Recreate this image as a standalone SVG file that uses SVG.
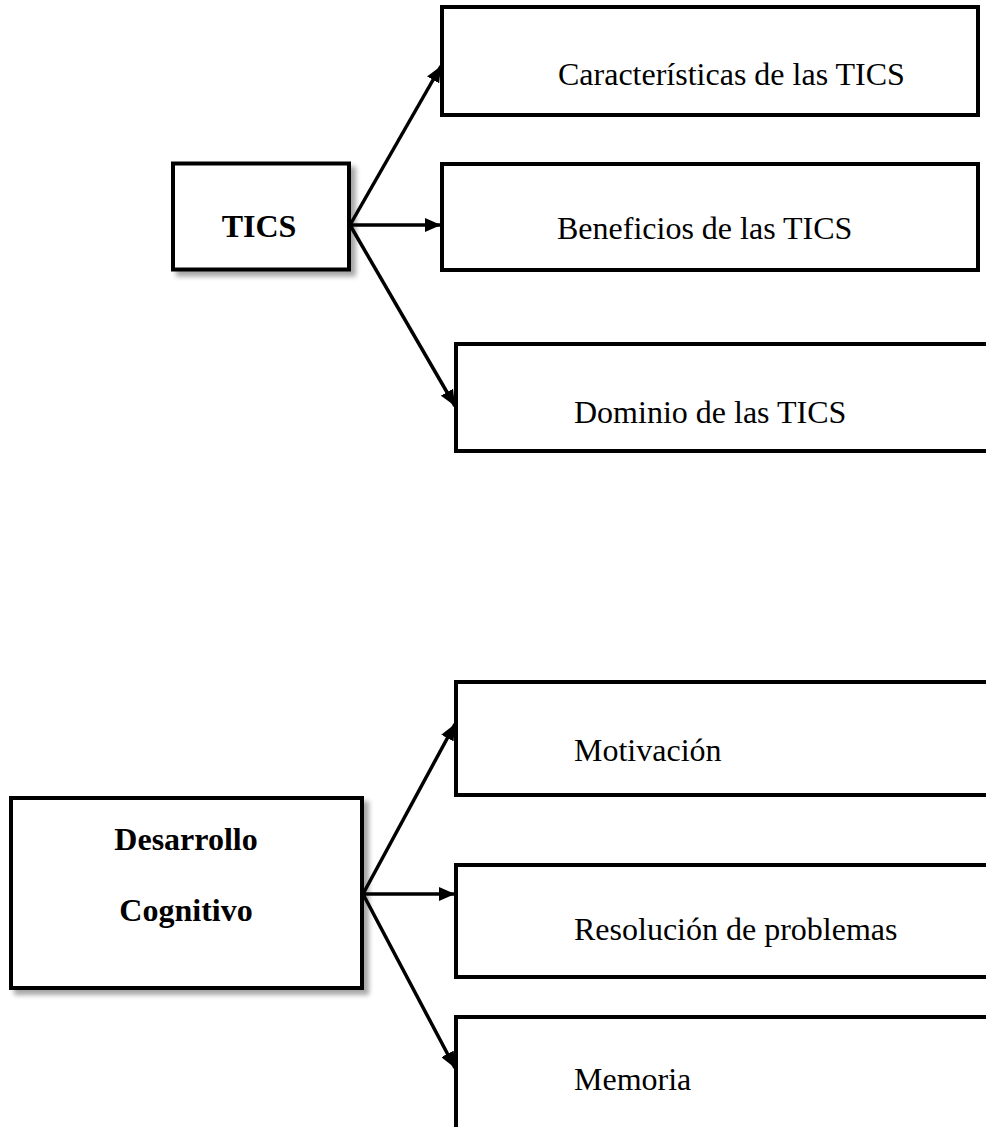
<svg xmlns="http://www.w3.org/2000/svg" width="986" height="1127" viewBox="0 0 986 1127">
  <style>
    .box { fill: #ffffff; stroke: #000000; stroke-width: 4; }
    .lbl { font-family: "Liberation Serif", "Times New Roman", serif; font-size: 32px; fill: #000000; }
    .bold { font-weight: bold; }
    .conn { stroke: #000000; stroke-width: 3.5; fill: none; marker-end: url(#arrow); }
  </style>
  <defs>
    <marker id="arrow" viewBox="0 0 16 14" refX="16" refY="7" markerWidth="16" markerHeight="14" markerUnits="userSpaceOnUse" orient="auto">
      <path d="M0,0 L16,7 L0,14 Z" fill="#000000"/>
    </marker>
    <filter id="shadow" x="-10%" y="-10%" width="130%" height="130%">
      <feGaussianBlur in="SourceAlpha" stdDeviation="2.5"/>
      <feOffset dx="5" dy="5" result="b"/>
      <feComponentTransfer><feFuncA type="linear" slope="0.35"/></feComponentTransfer>
      <feMerge><feMergeNode/><feMergeNode in="SourceGraphic"/></feMerge>
    </filter>
  </defs>

  <g id="connectors">
    <line class="conn" x1="350" y1="225" x2="441" y2="66"/>
    <line class="conn" x1="350" y1="225" x2="441" y2="225"/>
    <line class="conn" x1="350" y1="225" x2="455" y2="406"/>
    <line class="conn" x1="363" y1="894" x2="455" y2="724"/>
    <line class="conn" x1="363" y1="894" x2="455" y2="894"/>
    <line class="conn" x1="363" y1="894" x2="455" y2="1068"/>
  </g>

  <g id="node-tics">
    <rect class="box" x="173" y="163.5" width="176" height="106" filter="url(#shadow)"/>
    <text class="lbl bold" x="259" y="237" text-anchor="middle">TICS</text>
  </g>
  <g id="node-caracteristicas">
    <rect class="box" x="442" y="7" width="536" height="108"/>
    <text class="lbl" x="558" y="85">Características de las TICS</text>
  </g>
  <g id="node-beneficios">
    <rect class="box" x="442" y="164" width="536" height="106"/>
    <text class="lbl" x="557" y="239">Beneficios de las TICS</text>
  </g>
  <g id="node-dominio">
    <rect class="box" x="456" y="344" width="540" height="107"/>
    <text class="lbl" x="574" y="423">Dominio de las TICS</text>
  </g>

  <g id="node-desarrollo">
    <rect class="box" x="11" y="798" width="351" height="190" filter="url(#shadow)"/>
    <text class="lbl bold" x="186" y="850" text-anchor="middle">Desarrollo</text>
    <text class="lbl bold" x="186" y="921" text-anchor="middle">Cognitivo</text>
  </g>
  <g id="node-motivacion">
    <rect class="box" x="456" y="682" width="540" height="113"/>
    <text class="lbl" x="574" y="761">Motivación</text>
  </g>
  <g id="node-resolucion">
    <rect class="box" x="456" y="865" width="540" height="112"/>
    <text class="lbl" x="574" y="940">Resolución de problemas</text>
  </g>
  <g id="node-memoria">
    <rect class="box" x="456" y="1017" width="540" height="140"/>
    <text class="lbl" x="574" y="1090">Memoria</text>
  </g>
</svg>
